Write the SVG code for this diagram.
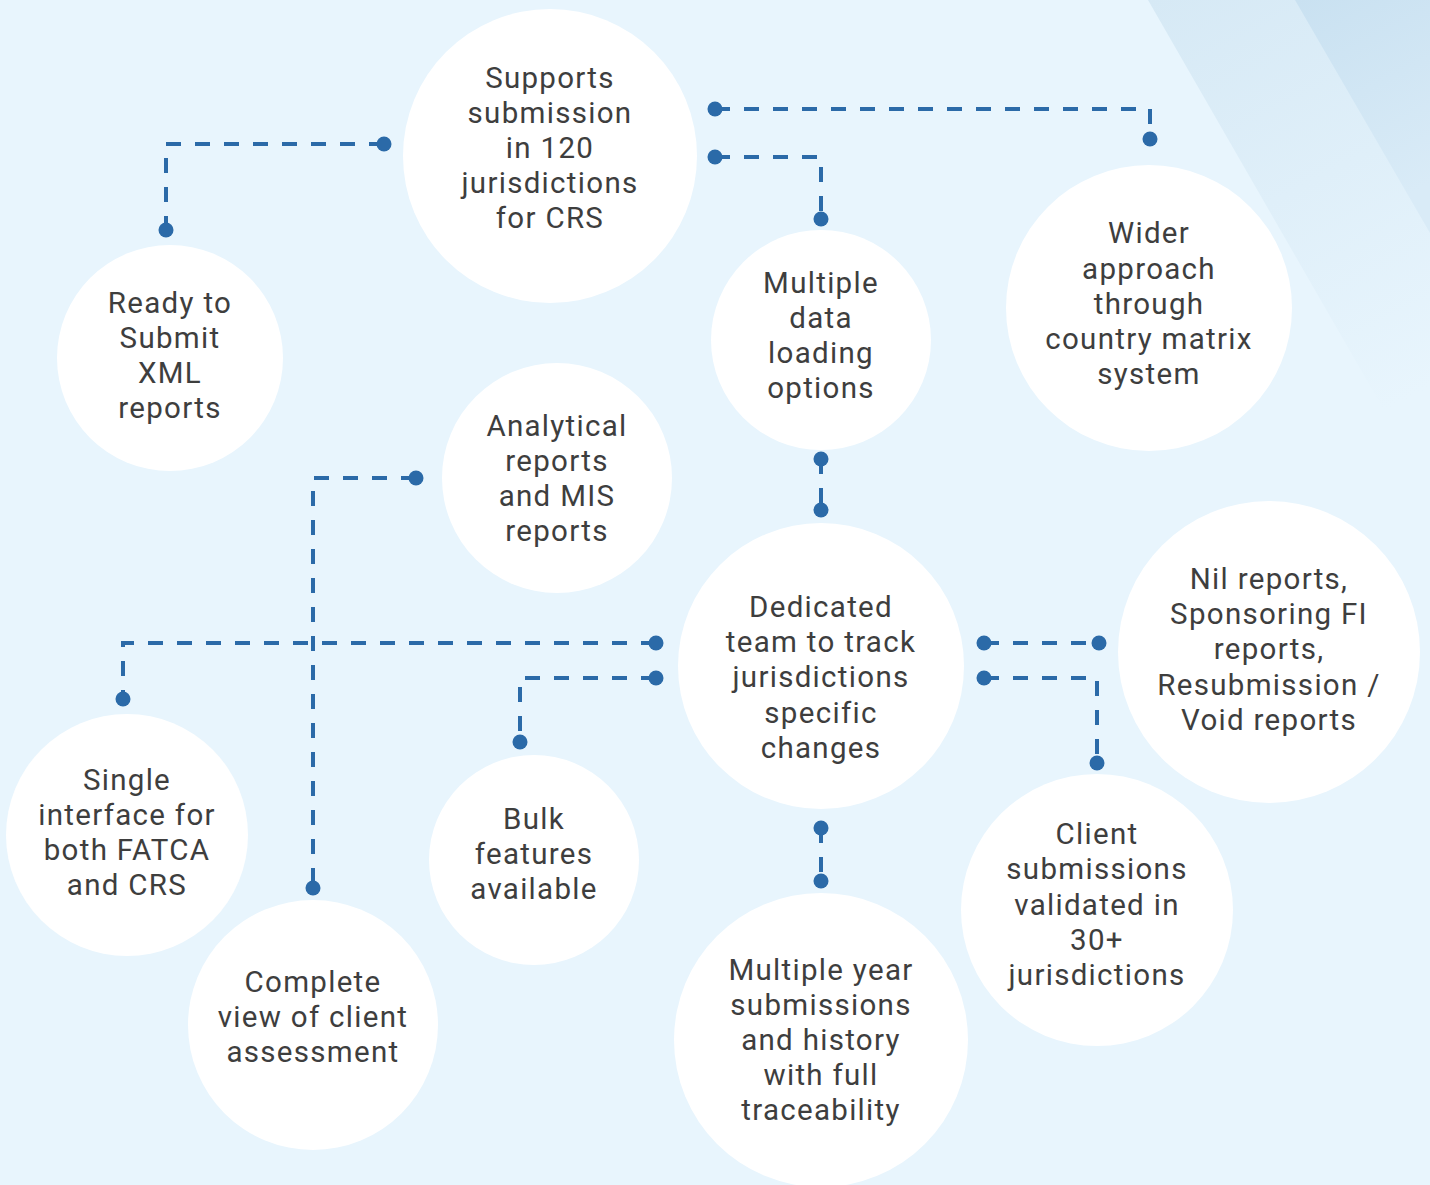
<svg xmlns="http://www.w3.org/2000/svg" width="1430" height="1185" viewBox="0 0 1430 1185">
<defs>
<style>
.node circle{fill:#ffffff}
.node text{font-family:Roboto,"Open Sans",sans-serif;font-size:29.5px;letter-spacing:1.3px;fill:#3e3e3e;text-anchor:middle}
.conn path{fill:none;stroke:#2b6aa8;stroke-width:4;stroke-dasharray:15 14}
.conn circle{fill:#2b6aa8}
</style>
<linearGradient id="b1" x1="0" y1="0" x2="0.3" y2="1">
<stop offset="0" stop-color="#d6e9f5"/>
<stop offset="1" stop-color="#e8f5fd"/>
</linearGradient>
<linearGradient id="b2" x1="0" y1="0" x2="0.3" y2="1">
<stop offset="0" stop-color="#c9e1f1"/>
<stop offset="1" stop-color="#d9ebf7"/>
</linearGradient>
</defs>
<rect width="1430" height="1185" fill="#e8f5fd"/>
<polygon points="1148,0 1430,0 1430,490" fill="url(#b1)"/>
<polygon points="1295,0 1430,0 1430,233" fill="url(#b2)"/>

<g class="conn">
<path d="M384,144 H166 V230"/>
<path d="M715,109 H1150 V139"/>
<path d="M715,157 H821 V219"/>
<path d="M821,459 V510"/>
<path d="M416,478 H313 V888"/>
<path d="M656,643 H123 V699"/>
<path d="M656,678 H520 V742"/>
<path d="M821,828 V881"/>
<path d="M984,643 H1099"/>
<path d="M984,678 H1097 V763"/>
<circle cx="384" cy="144" r="7.5"/><circle cx="166" cy="230" r="7.5"/>
<circle cx="715" cy="109" r="7.5"/><circle cx="1150" cy="139" r="7.5"/>
<circle cx="715" cy="157" r="7.5"/><circle cx="821" cy="219" r="7.5"/>
<circle cx="821" cy="459" r="7.5"/><circle cx="821" cy="510" r="7.5"/>
<circle cx="416" cy="478" r="7.5"/><circle cx="313" cy="888" r="7.5"/>
<circle cx="656" cy="643" r="7.5"/><circle cx="123" cy="699" r="7.5"/>
<circle cx="656" cy="678" r="7.5"/><circle cx="520" cy="742" r="7.5"/>
<circle cx="821" cy="828" r="7.5"/><circle cx="821" cy="881" r="7.5"/>
<circle cx="984" cy="643" r="7.5"/><circle cx="1099" cy="643" r="7.5"/>
<circle cx="984" cy="678" r="7.5"/><circle cx="1097" cy="763" r="7.5"/>
</g>

<g id="n-supports" class="node"><circle cx="550" cy="156" r="147"/>
<text y="88"><tspan x="550">Supports</tspan><tspan x="550" dy="35">submission</tspan><tspan x="550" dy="35">in 120</tspan><tspan x="550" dy="35">jurisdictions</tspan><tspan x="550" dy="35">for CRS</tspan></text></g>

<g id="n-ready" class="node"><circle cx="170" cy="358" r="113"/>
<text y="313"><tspan x="170">Ready to</tspan><tspan x="170" dy="35">Submit</tspan><tspan x="170" dy="35">XML</tspan><tspan x="170" dy="35">reports</tspan></text></g>

<g id="n-multidata" class="node"><circle cx="821" cy="340" r="110"/>
<text y="293"><tspan x="821">Multiple</tspan><tspan x="821" dy="35">data</tspan><tspan x="821" dy="35">loading</tspan><tspan x="821" dy="35">options</tspan></text></g>

<g id="n-wider" class="node"><circle cx="1149" cy="308" r="143"/>
<text y="243"><tspan x="1149">Wider</tspan><tspan x="1149" dy="36">approach</tspan><tspan x="1149" dy="35">through</tspan><tspan x="1149" dy="35">country matrix</tspan><tspan x="1149" dy="35">system</tspan></text></g>

<g id="n-analytical" class="node"><circle cx="557" cy="478" r="115"/>
<text y="436"><tspan x="557">Analytical</tspan><tspan x="557" dy="35">reports</tspan><tspan x="557" dy="35">and MIS</tspan><tspan x="557" dy="35">reports</tspan></text></g>

<g id="n-dedicated" class="node"><circle cx="821" cy="666" r="143"/>
<text y="617"><tspan x="821">Dedicated</tspan><tspan x="821" dy="35">team to track</tspan><tspan x="821" dy="35">jurisdictions</tspan><tspan x="821" dy="36">specific</tspan><tspan x="821" dy="35">changes</tspan></text></g>

<g id="n-nil" class="node"><circle cx="1269" cy="652" r="151"/>
<text y="589"><tspan x="1269">Nil reports,</tspan><tspan x="1269" dy="35">Sponsoring FI</tspan><tspan x="1269" dy="35">reports,</tspan><tspan x="1269" dy="36">Resubmission /</tspan><tspan x="1269" dy="35">Void reports</tspan></text></g>

<g id="n-single" class="node"><circle cx="127" cy="835" r="121"/>
<text y="790"><tspan x="127">Single</tspan><tspan x="127" dy="35">interface for</tspan><tspan x="127" dy="35">both FATCA</tspan><tspan x="127" dy="35">and CRS</tspan></text></g>

<g id="n-complete" class="node"><circle cx="313" cy="1025" r="125"/>
<text y="992"><tspan x="313">Complete</tspan><tspan x="313" dy="35">view of client</tspan><tspan x="313" dy="35">assessment</tspan></text></g>

<g id="n-bulk" class="node"><circle cx="534" cy="860" r="105"/>
<text y="829"><tspan x="534">Bulk</tspan><tspan x="534" dy="35">features</tspan><tspan x="534" dy="35">available</tspan></text></g>

<g id="n-multiyear" class="node"><circle cx="821" cy="1040" r="147"/>
<text y="980"><tspan x="821">Multiple year</tspan><tspan x="821" dy="35">submissions</tspan><tspan x="821" dy="35">and history</tspan><tspan x="821" dy="35">with full</tspan><tspan x="821" dy="35">traceability</tspan></text></g>

<g id="n-client" class="node"><circle cx="1097" cy="910" r="136"/>
<text y="844"><tspan x="1097">Client</tspan><tspan x="1097" dy="35">submissions</tspan><tspan x="1097" dy="36">validated in</tspan><tspan x="1097" dy="35">30+</tspan><tspan x="1097" dy="35">jurisdictions</tspan></text></g>
</svg>
